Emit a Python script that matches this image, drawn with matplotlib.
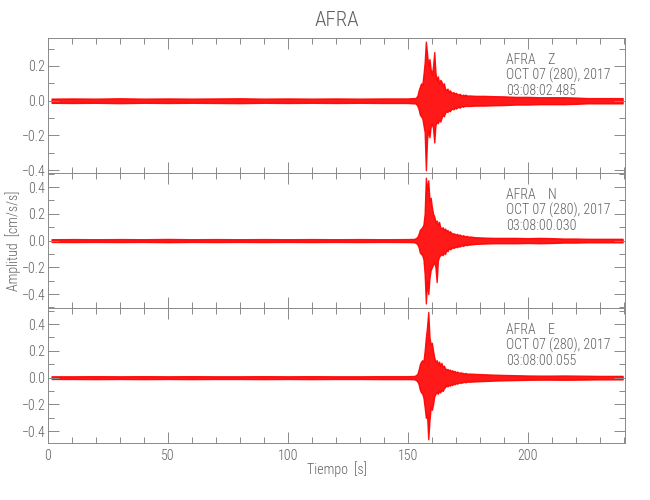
import numpy as np
import matplotlib
matplotlib.use("Agg")
import matplotlib.pyplot as plt
from matplotlib.ticker import MultipleLocator
from matplotlib import font_manager

# ---------------- data ----------------
station = "AFRA"
components = ["Z", "N", "E"]
start_times = ["03:08:02.485", "03:08:00.030", "03:08:00.055"]
date_label = "OCT 07 (280), 2017"

# pre-event noise: sample times [s] and half-width of the noise band
t_pre = [1.5, 10, 20, 30, 40, 50, 60, 70, 80, 90, 100, 110, 120, 130, 140, 150]
noise_pre_z = [0.012, 0.013, 0.012, 0.014, 0.012, 0.013, 0.012, 0.013,
               0.014, 0.012, 0.013, 0.012, 0.013, 0.012, 0.013, 0.013]
noise_pre_n = [0.010, 0.011, 0.010, 0.011, 0.010, 0.012, 0.010, 0.011,
               0.010, 0.011, 0.010, 0.011, 0.010, 0.011, 0.010, 0.011]
noise_pre_e = [0.010, 0.010, 0.011, 0.010, 0.011, 0.010, 0.011, 0.010,
               0.010, 0.011, 0.010, 0.011, 0.010, 0.010, 0.011, 0.011]

# event window, sampled every 0.5 s from 152 s to 176 s
t_evt = [152.0, 152.5, 153.0, 153.5, 154.0, 154.5, 155.0, 155.5, 156.0, 156.5,
         157.0, 157.5, 158.0, 158.5, 159.0, 159.5, 160.0, 160.5, 161.0, 161.5,
         162.0, 162.5, 163.0, 163.5, 164.0, 164.5, 165.0, 165.5, 166.0, 166.5,
         167.0, 167.5, 168.0, 168.5, 169.0, 169.5, 170.0, 170.5, 171.0, 171.5,
         172.0, 172.5, 173.0, 173.5, 174.0, 174.5, 175.0, 175.5, 176.0]
up_z = [0.015, 0.015, 0.015, 0.02, 0.03, 0.06, 0.08, 0.10, 0.09, 0.15,
        0.22, 0.34, 0.27, 0.20, 0.24, 0.18, 0.15, 0.20, 0.28, 0.16,
        0.12, 0.14, 0.10, 0.12, 0.11, 0.09, 0.10, 0.07, 0.06, 0.07,
        0.05, 0.06, 0.05, 0.045, 0.05, 0.04, 0.045, 0.04, 0.035, 0.04,
        0.035, 0.03, 0.035, 0.03, 0.035, 0.03, 0.03, 0.03, 0.03]
lo_z = [-0.015, -0.015, -0.015, -0.02, -0.03, -0.05, -0.08, -0.09, -0.10, -0.14,
        -0.18, -0.40, -0.22, -0.17, -0.21, -0.15, -0.13, -0.16, -0.24, -0.14,
        -0.12, -0.13, -0.11, -0.12, -0.10, -0.08, -0.09, -0.07, -0.06, -0.065,
        -0.055, -0.06, -0.05, -0.045, -0.05, -0.04, -0.045, -0.04, -0.035, -0.04,
        -0.035, -0.03, -0.035, -0.03, -0.03, -0.03, -0.03, -0.03, -0.03]
up_n = [0.012, 0.012, 0.015, 0.02, 0.03, 0.05, 0.08, 0.09, 0.10, 0.12,
        0.20, 0.47, 0.38, 0.45, 0.30, 0.32, 0.25, 0.20, 0.18, 0.14,
        0.15, 0.12, 0.14, 0.10, 0.09, 0.10, 0.08, 0.09, 0.07, 0.08,
        0.06, 0.07, 0.06, 0.05, 0.055, 0.05, 0.045, 0.05, 0.04, 0.045,
        0.04, 0.035, 0.04, 0.035, 0.03, 0.035, 0.03, 0.03, 0.03]
lo_n = [-0.012, -0.012, -0.015, -0.02, -0.03, -0.05, -0.09, -0.10, -0.11, -0.14,
        -0.25, -0.47, -0.30, -0.40, -0.28, -0.22, -0.20, -0.18, -0.16, -0.20,
        -0.31, -0.15, -0.12, -0.11, -0.10, -0.11, -0.09, -0.10, -0.07, -0.08,
        -0.06, -0.065, -0.06, -0.05, -0.055, -0.05, -0.045, -0.05, -0.04, -0.045,
        -0.04, -0.035, -0.04, -0.035, -0.03, -0.035, -0.03, -0.03, -0.03]
up_e = [0.012, 0.012, 0.015, 0.02, 0.03, 0.06, 0.10, 0.12, 0.13, 0.12,
        0.20, 0.30, 0.38, 0.49, 0.30, 0.25, 0.26, 0.20, 0.15, 0.12,
        0.13, 0.10, 0.12, 0.09, 0.11, 0.08, 0.09, 0.07, 0.06, 0.065,
        0.055, 0.06, 0.05, 0.055, 0.045, 0.05, 0.04, 0.045, 0.04, 0.035,
        0.04, 0.035, 0.035, 0.03, 0.035, 0.03, 0.03, 0.03, 0.03]
lo_e = [-0.012, -0.012, -0.015, -0.02, -0.03, -0.05, -0.09, -0.11, -0.12, -0.15,
        -0.22, -0.30, -0.28, -0.46, -0.32, -0.22, -0.24, -0.20, -0.14, -0.12,
        -0.11, -0.12, -0.10, -0.11, -0.09, -0.10, -0.08, -0.07, -0.06, -0.065,
        -0.055, -0.06, -0.05, -0.055, -0.045, -0.05, -0.04, -0.045, -0.04, -0.035,
        -0.04, -0.035, -0.035, -0.03, -0.035, -0.03, -0.03, -0.03, -0.03]

# post-event coda / noise: sample times and half-width
t_post = [178, 182, 186, 190, 195, 200, 205, 210, 215, 220, 225, 230, 235, 239.5]
noise_post_z = [0.028, 0.028, 0.026, 0.025, 0.022, 0.022, 0.020, 0.020,
                0.020, 0.018, 0.015, 0.015, 0.015, 0.015]
noise_post_n = [0.025, 0.022, 0.020, 0.020, 0.020, 0.018, 0.020, 0.018,
                0.015, 0.015, 0.013, 0.013, 0.013, 0.013]
noise_post_e = [0.028, 0.025, 0.022, 0.020, 0.018, 0.016, 0.015, 0.015,
                0.016, 0.015, 0.014, 0.013, 0.013, 0.013]

ylims = [(-0.416, 0.361), (-0.504, 0.505), (-0.488, 0.52)]
x_max = 240.5

# ---------------- font: a narrow face if one is installed ----------------
installed = {f.name for f in font_manager.fontManager.ttflist}
narrow = None
for cand in ['Roboto Condensed', 'Liberation Sans Narrow', 'DejaVu Sans Condensed',
             'Open Sans Condensed']:
    if cand in installed:
        narrow = cand
        break
if narrow is None:
    narrow = 'Liberation Sans'
    SCALE = 0.92
else:
    SCALE = 1.0
plt.rcParams['font.family'] = [narrow, 'DejaVu Sans']
plt.rcParams['font.weight'] = 'light'

GRAY_TXT = '#606060'
GRAY_AX = '#8a8a8a'
RED = '#ff0000'

fig = plt.figure(figsize=(6.5, 5.0), dpi=100)
L, R = 48 / 650, 625 / 650
top_px, bot_px = 38, 443
h_px = (bot_px - top_px) / 3

pre_sets = [noise_pre_z, noise_pre_n, noise_pre_e]
evt_sets = [(up_z, lo_z), (up_n, lo_n), (up_e, lo_e)]
post_sets = [noise_post_z, noise_post_n, noise_post_e]

for i in range(3):
    y0 = 1 - (top_px + (i + 1) * h_px) / 500
    ax = fig.add_axes([L, y0, R - L, h_px / 500])
    t = np.concatenate([t_pre, t_evt, t_post])
    up = np.concatenate([pre_sets[i], evt_sets[i][0], post_sets[i]])
    lo = np.concatenate([-np.array(pre_sets[i]), evt_sets[i][1], -np.array(post_sets[i])])
    ax.fill_between(t, lo, up, facecolor=RED, edgecolor=RED, linewidth=1.0, alpha=0.9)
    ax.set_xlim(0, x_max)
    ax.set_ylim(*ylims[i])
    ax.xaxis.set_major_locator(MultipleLocator(50))
    ax.xaxis.set_minor_locator(MultipleLocator(10))
    ax.yaxis.set_major_locator(MultipleLocator(0.2))
    ax.yaxis.set_minor_locator(MultipleLocator(0.1))
    ax.tick_params(which='both', direction='in', top=True, right=True,
                   color=GRAY_AX, labelcolor=GRAY_TXT, labelsize=10 * SCALE, width=0.7)
    ax.tick_params(which='major', length=8)
    ax.tick_params(which='minor', length=4.5)
    ax.tick_params(axis='y', pad=2)
    for s in ax.spines.values():
        s.set_color(GRAY_AX)
        s.set_linewidth(0.7)
    ax.yaxis.set_major_formatter(matplotlib.ticker.FuncFormatter(
        lambda v, p: f"{v:.1f}".replace('-', '\u2212') if abs(v) > 1e-9 else "0.0"))
    if i < 2:
        ax.tick_params(axis='x', labelbottom=False)
    else:
        ax.tick_params(axis='x', pad=4)
    ax.set_facecolor('white')
    txt = [f"{station}    {components[i]}", date_label, start_times[i]]
    for k, s in enumerate(txt):
        ax.text(0.794, 0.837 - k * 0.113, s, transform=ax.transAxes,
                ha='left', va='center', fontsize=10 * SCALE, color=GRAY_TXT)

fig.text(336.5 / 650, 1 - 20 / 500, station, ha='center', va='center',
         fontsize=15 * SCALE, color=GRAY_TXT)
fig.text(336.5 / 650, 1 - 469 / 500, "Tiempo  [s]", ha='center', va='center',
         fontsize=10 * SCALE, color=GRAY_TXT)
fig.text(13 / 650, 1 - 240.5 / 500, "Amplitud  [cm/s/s]", ha='center', va='center',
         rotation=90, fontsize=10 * SCALE, color=GRAY_TXT)

fig.savefig("out.png", dpi=100, facecolor='white')
